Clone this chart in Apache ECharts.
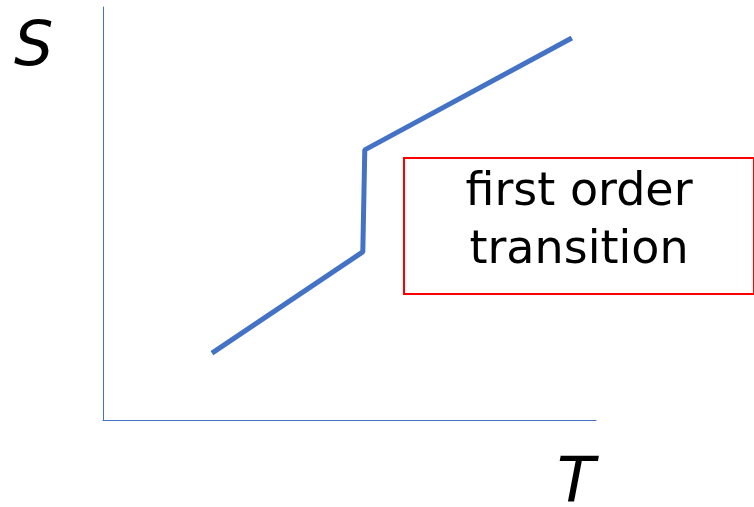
<!DOCTYPE html>
<html>
<head>
<meta charset="utf-8">
<script src="https://cdn.jsdelivr.net/npm/echarts@6/dist/echarts.min.js"></script>
<style>
  html, body { margin: 0; padding: 0; background: #fff; }
  #main { width: 754px; height: 507px; }
</style>
</head>
<body>
<div id="main"></div>
<script>
var chart = echarts.init(document.getElementById("main"));

// entropy S vs temperature T, jump at the transition
var tValues = [22.1, 52.7, 53.1, 95.1];
var sValues = [16.2, 40.7, 65.4, 92.5];
var axisNames = ["T", "S"];
var boxText = "first order\ntransition";

var lineData = tValues.map(function (t, i) { return [t, sValues[i]]; });

var axisColor = "#4472C4";

var options = {
  animation: false,
  grid: { left: 103, top: 7, width: 493, height: 413 },
  xAxis: {
    type: "value",
    min: 0,
    max: 100,
    axisLine: { show: true, lineStyle: { color: axisColor, width: 1 } },
    axisTick: { show: false },
    axisLabel: { show: false },
    splitLine: { show: false }
  },
  yAxis: {
    type: "value",
    min: 0,
    max: 100,
    axisLine: { show: true, lineStyle: { color: axisColor, width: 1 } },
    axisTick: { show: false },
    axisLabel: { show: false },
    splitLine: { show: false }
  },
  graphic: [
    {
      type: "text",
      left: 14, top: 18,
      style: {
        text: axisNames[1],
        font: "italic 62px 'DejaVu Sans'",
        fill: "#000"
      }
    },
    {
      type: "text",
      left: 557, top: 454,
      style: {
        text: axisNames[0],
        font: "italic 62px 'DejaVu Sans'",
        fill: "#000"
      }
    },
    {
      type: "rect",
      shape: { x: 404, y: 158, width: 350, height: 136 },
      style: { fill: "#fff", stroke: "#FF0000", lineWidth: 2 }
    },
    {
      type: "text",
      x: 579, y: 222,
      style: {
        text: boxText,
        font: "46px 'DejaVu Sans'",
        lineHeight: 58,
        fill: "#000",
        align: "center",
        verticalAlign: "middle"
      }
    }
  ],
  series: [
    {
      type: "line",
      data: lineData,
      showSymbol: false,
      symbol: "none",
      lineStyle: { color: axisColor, width: 5 },
      z: 3
    }
  ]
};

chart.setOption(options);
</script>
</body>
</html>
